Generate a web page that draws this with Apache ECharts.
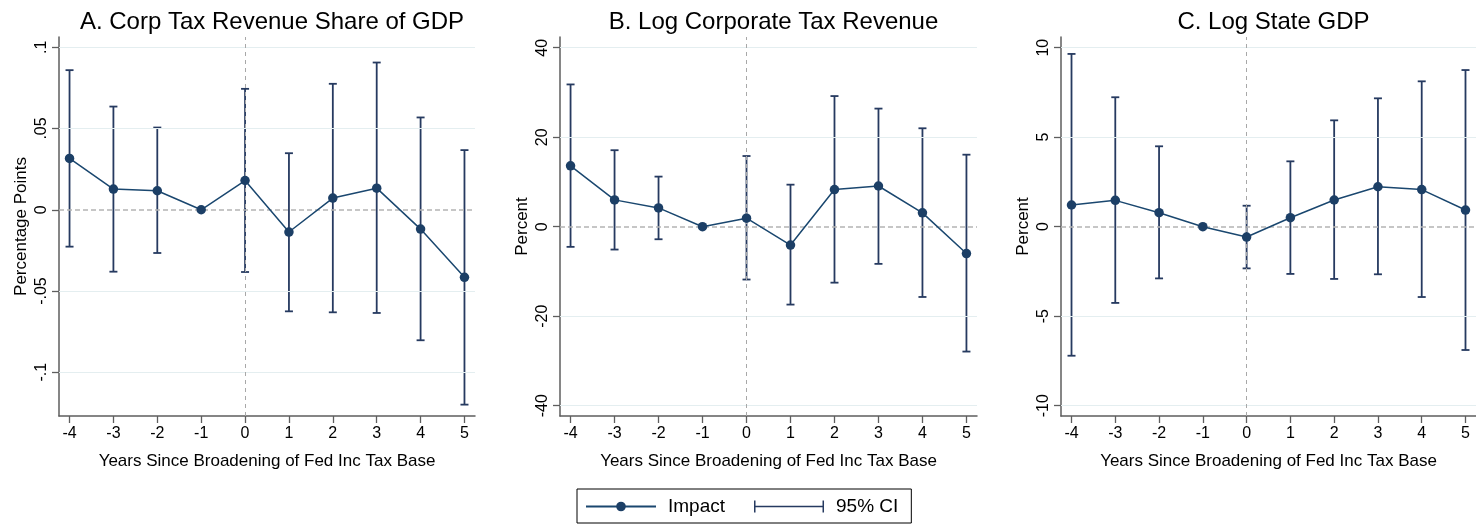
<!DOCTYPE html>
<html>
<head>
<meta charset="utf-8">
<script src="https://cdn.jsdelivr.net/npm/echarts@6/dist/echarts.min.js"></script>
<style>
  html, body { margin: 0; padding: 0; background: #fff; }
  #chart { width: 1476px; height: 526px; }
</style>
</head>
<body>
<div id="chart"></div>
<script>
// ---------------- DATA ----------------
const years = [-4, -3, -2, -1, 0, 1, 2, 3, 4, 5];

const titles = ['A. Corp Tax Revenue Share of GDP', 'B. Log Corporate Tax Revenue', 'C. Log State GDP'];
const yNames = ['Percentage Points', 'Percent', 'Percent'];
const xName = 'Years Since Broadening of Fed Inc Tax Base';

// Panel A: Corp tax revenue share of GDP (percentage points)
const A_est = [0.0316, 0.0127, 0.0117, 0, 0.0180, -0.0137, 0.0072, 0.0133, -0.0119, -0.0416];
const A_lo  = [-0.0227, -0.0381, -0.0266, 0, -0.0383, -0.0625, -0.0631, -0.0635, -0.0803, -0.1199];
const A_hi  = [0.0859, 0.0635, 0.0506, 0, 0.0744, 0.0348, 0.0775, 0.0906, 0.0568, 0.0367];

// Panel B: Log corporate tax revenue (percent)
const B_est = [13.6, 6.0, 4.2, 0, 1.9, -4.1, 8.3, 9.1, 3.1, -6.0];
const B_lo  = [-4.5, -5.1, -2.8, 0, -11.8, -17.4, -12.5, -8.3, -15.7, -27.9];
const B_hi  = [31.8, 17.1, 11.2, 0, 15.8, 9.4, 29.2, 26.4, 22.0, 16.1];

// Panel C: Log state GDP (percent)
const C_est = [1.21, 1.47, 0.78, 0, -0.58, 0.50, 1.49, 2.23, 2.07, 0.93];
const C_lo  = [-7.21, -4.26, -2.89, 0, -2.33, -2.64, -2.92, -2.66, -3.93, -6.89];
const C_hi  = [9.65, 7.23, 4.49, 0, 1.17, 3.65, 5.94, 7.17, 8.12, 8.75];

// Tick values and labels
const xTicks = [-4, -3, -2, -1, 0, 1, 2, 3, 4, 5];
const A_yTicks = [-0.1, -0.05, 0, 0.05, 0.1];
const A_yLabels = ['-.1', '-.05', '0', '.05', '.1'];
const B_yTicks = [-40, -20, 0, 20, 40];
const B_yLabels = ['-40', '-20', '0', '20', '40'];
const C_yTicks = [-10, -5, 0, 5, 10];
const C_yLabels = ['-10', '-5', '0', '5', '10'];

// ---------------- STYLE / LAYOUT ----------------
const FONT = '"Liberation Sans", Arial, Helvetica, sans-serif';
const LINE_COLOR = '#1a476f';
const MARK_COLOR = '#1c3f66';
const CI_COLOR = '#263a60';
const AXIS_COLOR = '#5e5e5e';
const GRID_COLOR = '#e4eef0';

const panels = [
  { est: A_est, lo: A_lo, hi: A_hi, yTicks: A_yTicks, yLabels: A_yLabels, yMin: -0.1269, yMax: 0.1063,
    grid: { left: 59, top: 37, width: 416, height: 379 }, nameGap: 29 },
  { est: B_est, lo: B_lo, hi: B_hi, yTicks: B_yTicks, yLabels: B_yLabels, yMin: -42.3, yMax: 42.4,
    grid: { left: 560, top: 37, width: 417, height: 379 }, nameGap: 29 },
  { est: C_est, lo: C_lo, hi: C_hi, yTicks: C_yTicks, yLabels: C_yLabels, yMin: -10.577, yMax: 10.596,
    grid: { left: 1061, top: 37, width: 415, height: 379 }, nameGap: 29 }
];
const X_MIN = -4.24, X_MAX = 5.24;

const chart = echarts.init(document.getElementById('chart'), null, { renderer: 'canvas' });

function makeCI(params, api) {
  const x = api.value(0), lo = api.value(1), hi = api.value(2);
  const pLo = api.coord([x, lo]);
  const pHi = api.coord([x, hi]);
  const w = 4;
  const style = { stroke: CI_COLOR, lineWidth: 1.8, fill: null };
  return {
    type: 'group',
    children: [
      { type: 'line', shape: { x1: pLo[0], y1: pLo[1], x2: pHi[0], y2: pHi[1] }, style: style },
      { type: 'line', shape: { x1: pLo[0] - w, y1: pLo[1], x2: pLo[0] + w, y2: pLo[1] }, style: style },
      { type: 'line', shape: { x1: pHi[0] - w, y1: pHi[1], x2: pHi[0] + w, y2: pHi[1] }, style: style }
    ]
  };
}

const grids = [], xAxes = [], yAxes = [], series = [], titleOpts = [];

panels.forEach((p, i) => {
  grids.push(Object.assign({ containLabel: false }, p.grid));
  titleOpts.push({
    text: titles[i],
    left: p.grid.left + p.grid.width / 2,
    top: 5,
    textAlign: 'center',
    textStyle: { fontFamily: FONT, fontSize: 24, fontWeight: 'normal', color: '#000' }
  });
  xAxes.push({
    gridIndex: i, type: 'value', min: X_MIN, max: X_MAX,
    name: xName, nameLocation: 'middle', nameGap: 37,
    nameTextStyle: { fontFamily: FONT, fontSize: 17, color: '#000' },
    axisLine: { show: true, onZero: false, lineStyle: { color: AXIS_COLOR, width: 1.5 } },
    axisTick: { show: true, customValues: xTicks, length: 7, lineStyle: { color: AXIS_COLOR, width: 1.3 } },
    axisLabel: { customValues: xTicks, margin: 10, fontFamily: FONT, fontSize: 16, color: '#000',
                 formatter: v => String(Math.round(v)) },
    splitLine: { show: false }
  });
  yAxes.push({
    gridIndex: i, type: 'value', min: p.yMin, max: p.yMax,
    name: yNames[i], nameLocation: 'middle', nameGap: p.nameGap, nameRotate: 90,
    nameTextStyle: { fontFamily: FONT, fontSize: 17, color: '#000' },
    axisLine: { show: true, onZero: false, lineStyle: { color: AXIS_COLOR, width: 1.5 } },
    axisTick: { show: true, customValues: p.yTicks, length: 7, lineStyle: { color: AXIS_COLOR, width: 1.3 } },
    axisLabel: {
      customValues: p.yTicks, rotate: 90, margin: 9, fontFamily: FONT, fontSize: 16, color: '#000',
      formatter: v => {
        let best = 0;
        p.yTicks.forEach((t, k) => { if (Math.abs(t - v) < Math.abs(p.yTicks[best] - v)) best = k; });
        return p.yLabels[best];
      }
    },
    splitLine: { show: false }
  });

  const gridLines = p.yTicks.filter(t => t !== 0).map(t => ({
    yAxis: t, lineStyle: { color: GRID_COLOR, width: 1.2, type: 'solid' }
  }));
  gridLines.push({ yAxis: 0, lineStyle: { color: '#b4b4b4', width: 1.6, type: [5, 3] } });
  gridLines.push({ xAxis: 0, lineStyle: { color: '#a8a8a8', width: 1, type: [4, 4] } });

  series.push({
    name: '95% CI', type: 'custom', xAxisIndex: i, yAxisIndex: i, z: 2,
    itemStyle: { color: CI_COLOR },
    encode: { x: 0, y: [1, 2] },
    renderItem: makeCI,
    data: years.map((y, k) => [y, p.lo[k], p.hi[k]]),
    markLine: {
      silent: true, symbol: ['none', 'none'], label: { show: false },
      emphasis: { disabled: true },
      animation: false,
      data: gridLines
    }
  });
  series.push({
    name: 'Impact', type: 'line', xAxisIndex: i, yAxisIndex: i, z: 5,
    data: years.map((y, k) => [y, p.est[k]]),
    symbol: 'circle', symbolSize: 9.5, showSymbol: true,
    lineStyle: { color: LINE_COLOR, width: 1.5 },
    itemStyle: { color: MARK_COLOR, borderWidth: 0 },
    emphasis: { disabled: true }
  });
});

const option = {
  backgroundColor: '#fff',
  animation: false,
  title: titleOpts,
  grid: grids,
  xAxis: xAxes,
  yAxis: yAxes,
  legend: {
    left: 577, top: 489,
    orient: 'horizontal',
    borderColor: '#000', borderWidth: 1,
    padding: [8, 13, 7, 8],
    itemGap: 29,
    itemWidth: 70, itemHeight: 12,
    textStyle: { fontFamily: FONT, fontSize: 19, color: '#000', padding: [0, 0, 0, 7] },
    selectedMode: false,
    data: [
      { name: 'Impact' },
      { name: '95% CI', icon: 'path://M0,0h1.5v12h-1.5z M1.5,5.2h67v1.6h-67z M68.5,0h1.5v12h-1.5z', itemStyle: { color: CI_COLOR } }
    ]
  },
  series: series
};

chart.setOption(option);
</script>
</body>
</html>
